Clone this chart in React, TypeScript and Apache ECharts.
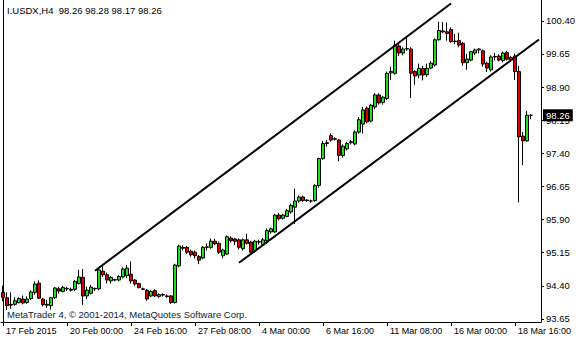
import { useEffect, useRef } from "react";
import * as echarts from "echarts";

// OHLC per H4 bar (bar 0 = 17 Feb 2015 08:00)
const OPEN = [
  94.25, 94.13, 93.96, 93.98, 94.02, 94.10, 94.02, 94.11, 94.25, 94.46,
  94.10, 93.96, 93.95, 94.13, 94.33, 94.27, 94.33, 94.32, 94.32, 94.45,
  94.59, 94.17, 94.23, 94.33, 94.33, 94.73, 94.65, 94.51, 94.53, 94.53,
  94.60, 94.63, 94.66, 94.53, 94.45, 94.33, 94.30, 94.17, 94.29, 94.16,
  94.20, 94.17, 94.17, 94.02, 94.85, 95.27, 95.27, 95.18, 95.16, 95.06,
  95.03, 95.27, 95.27, 95.41, 95.36, 95.08, 95.12, 95.48, 95.46, 95.44,
  95.24, 95.44, 95.39, 95.20, 95.39, 95.33, 95.42, 95.62, 95.62, 96.00,
  95.93, 95.97, 96.07, 96.18, 96.32, 96.41, 96.33, 96.32, 96.33, 96.67,
  97.28, 97.62, 97.80, 97.72, 97.70, 97.35, 97.50, 97.64, 97.61, 97.88,
  98.06, 98.42, 98.13, 98.45, 98.72, 98.55, 98.64, 99.22, 99.21, 99.83,
  99.67, 99.76, 99.76, 99.25, 99.17, 99.32, 99.18, 99.33, 99.40, 99.97,
  100.15, 100.15, 100.20, 99.94, 99.95, 99.89, 99.45, 99.51, 99.67, 99.74,
  99.72, 99.44, 99.29, 99.58, 99.60, 99.50, 99.68, 99.57, 99.60, 99.25,
  97.79, 97.68, 98.26,
];
const CLOSE = [
  94.14, 93.95, 93.98, 94.06, 94.11, 94.01, 94.10, 94.26, 94.44, 94.12,
  93.97, 93.98, 94.13, 94.35, 94.28, 94.36, 94.34, 94.30, 94.50, 94.60,
  94.17, 94.30, 94.37, 94.34, 94.76, 94.65, 94.53, 94.59, 94.54, 94.61,
  94.78, 94.80, 94.51, 94.44, 94.36, 94.32, 94.10, 94.27, 94.17, 94.20,
  94.19, 94.16, 94.02, 94.87, 95.30, 95.25, 95.16, 95.10, 95.08, 94.98,
  95.27, 95.28, 95.41, 95.35, 95.16, 95.21, 95.51, 95.42, 95.41, 95.27,
  95.44, 95.36, 95.16, 95.41, 95.40, 95.44, 95.65, 95.69, 96.00, 95.92,
  96.00, 96.10, 96.22, 96.32, 96.41, 96.33, 96.34, 96.32, 96.67, 97.28,
  97.62, 97.64, 97.70, 97.73, 97.35, 97.56, 97.62, 97.66, 97.88, 98.16,
  98.38, 98.11, 98.49, 98.72, 98.54, 98.67, 99.21, 99.25, 99.85, 99.67,
  99.76, 99.77, 99.21, 99.15, 99.32, 99.17, 99.32, 99.44, 99.97, 100.18,
  100.17, 100.11, 99.93, 99.93, 99.85, 99.45, 99.53, 99.70, 99.74, 99.76,
  99.42, 99.33, 99.58, 99.59, 99.51, 99.67, 99.53, 99.52, 99.25, 97.77,
  97.68, 98.26, 98.26,
];
const LOW = [
  94.05, 93.85, 93.88, 93.95, 94.00, 93.98, 93.99, 94.08, 94.20, 94.10,
  93.93, 93.90, 93.86, 94.10, 94.22, 94.25, 94.28, 94.27, 94.28, 94.43,
  93.97, 94.10, 94.20, 94.28, 94.30, 94.60, 94.45, 94.45, 94.50, 94.50,
  94.57, 94.57, 94.45, 94.40, 94.34, 94.30, 94.06, 94.14, 94.14, 94.13,
  94.16, 94.13, 93.99, 94.00, 94.82, 95.20, 95.12, 95.06, 95.02, 94.89,
  95.00, 95.20, 95.24, 95.32, 95.12, 95.02, 95.10, 95.38, 95.32, 95.22,
  95.20, 95.33, 95.10, 95.15, 95.33, 95.30, 95.35, 95.58, 95.60, 95.88,
  95.90, 95.95, 96.03, 95.80, 96.28, 96.30, 96.30, 96.28, 96.30, 96.62,
  97.25, 97.55, 97.66, 97.69, 97.22, 97.30, 97.46, 97.60, 97.58, 97.84,
  97.85, 98.08, 98.10, 98.40, 98.50, 98.50, 98.60, 99.06, 99.18, 99.60,
  99.62, 99.72, 98.65, 98.95, 99.10, 99.05, 99.13, 99.30, 99.36, 99.95,
  100.12, 99.95, 99.90, 99.87, 99.80, 99.38, 99.29, 99.48, 99.62, 99.66,
  99.36, 99.24, 99.25, 99.50, 99.48, 99.46, 99.50, 99.48, 99.06, 96.29,
  97.13, 97.66, 98.17,
];
const HIGH = [
  94.40, 94.25, 94.25, 94.14, 94.14, 94.18, 94.16, 94.30, 94.50, 94.52,
  94.12, 94.08, 94.15, 94.37, 94.38, 94.40, 94.38, 94.36, 94.53, 94.76,
  94.78, 94.38, 94.42, 94.36, 94.80, 94.87, 94.70, 94.62, 94.56, 94.64,
  94.82, 94.87, 94.95, 94.55, 94.47, 94.36, 94.33, 94.30, 94.32, 94.23,
  94.23, 94.20, 94.19, 94.90, 95.33, 95.32, 95.30, 95.22, 95.20, 95.10,
  95.30, 95.36, 95.47, 95.46, 95.40, 95.24, 95.54, 95.52, 95.48, 95.47,
  95.47, 95.58, 95.42, 95.44, 95.44, 95.48, 95.70, 95.72, 96.03, 96.05,
  96.03, 96.14, 96.26, 96.60, 96.45, 96.44, 96.36, 96.35, 96.70, 97.30,
  97.68, 97.70, 97.85, 97.76, 97.72, 97.60, 97.66, 97.70, 97.92, 98.22,
  98.45, 98.46, 98.52, 98.76, 98.76, 98.70, 99.25, 99.36, 99.95, 99.90,
  99.80, 100.05, 99.80, 99.28, 99.43, 99.38, 99.43, 99.48, 100.00, 100.38,
  100.37, 100.36, 100.25, 100.10, 100.13, 99.92, 99.65, 99.72, 99.77, 99.78,
  99.75, 99.47, 99.62, 99.67, 99.64, 99.70, 99.72, 99.60, 99.66, 99.38,
  97.88, 98.36, 98.28,
];

const SLOTS = 135; // bar slots visible on the chart (last ones empty: chart shift)
const X_TICK_STEP = 16;
const X_TICK_LABELS = [
  "17 Feb 2015", "20 Feb 00:00", "24 Feb 16:00", "27 Feb 08:00", "4 Mar 00:00",
  "6 Mar 16:00", "11 Mar 08:00", "16 Mar 00:00", "18 Mar 16:00",
];
const Y_TICKS = [93.65, 94.4, 95.15, 95.9, 96.65, 97.4, 98.15, 98.9, 99.65, 100.4];
const Y_MIN = 93.58;
const Y_MAX = 100.87;

const UPPER_CHANNEL = [[23, 94.74], [112, 100.79]];
const LOWER_CHANNEL = [[59, 94.92], [134, 99.975]];
const LAST_PRICE = 98.26;

const TITLE = "I.USDX,H4  98.26 98.28 98.17 98.26";
const COPYRIGHT = "MetaTrader 4, \u00a9 2001-2014, MetaQuotes Software Corp.";

const FONT = "'Liberation Sans', Arial, sans-serif";

export default function App() {
  const ref = useRef<HTMLDivElement>(null);

  useEffect(() => {
    if (!ref.current) return;
    const chart = echarts.init(ref.current, null, { renderer: "svg" });
    const categories = Array.from({ length: SLOTS }, (_, i) => String(i));
    const candles = OPEN.map((o, i) => [o, CLOSE[i], LOW[i], HIGH[i]]);

    chart.setOption({
      animation: false,
      backgroundColor: "#ffffff",
      textStyle: { fontFamily: FONT },
      title: {
        text: TITLE,
        left: 7,
        top: 5,
        padding: 0,
        textStyle: { fontSize: 9.5, fontWeight: "normal", color: "#000", fontFamily: FONT },
      },
      grid: { left: 1, right: 39, top: 0, bottom: 18, containLabel: false },
      xAxis: {
        type: "category",
        data: categories,
        boundaryGap: true,
        axisLine: { show: true, lineStyle: { color: "#000", width: 1 } },
        axisTick: {
          show: true,
          alignWithLabel: true,
          length: 4,
          interval: (idx: number) => idx % X_TICK_STEP === 0,
          lineStyle: { color: "#000" },
        },
        axisLabel: {
          show: true,
          interval: (idx: number) => idx % X_TICK_STEP === 0,
          formatter: (_v: string, idx: number) => X_TICK_LABELS[idx / X_TICK_STEP] ?? "",
          align: "left",
          margin: 4,
          padding: [0, 0, 0, 3],
          color: "#000",
          fontSize: 9,
          fontFamily: FONT,
          hideOverlap: false,
        },
        splitLine: { show: false },
      },
      yAxis: {
        type: "value",
        position: "right",
        min: Y_MIN,
        max: Y_MAX,
        scale: true,
        axisLine: { show: true, lineStyle: { color: "#000", width: 1 } },
        axisTick: {
          show: true,
          length: 3,
          customValues: Y_TICKS,
          lineStyle: { color: "#000" },
        },
        axisLabel: {
          show: true,
          customValues: Y_TICKS,
          formatter: (v: number) => v.toFixed(2),
          margin: 5,
          color: "#000",
          fontSize: 9.5,
          fontFamily: FONT,
        },
        splitLine: { show: false },
      },
      graphic: [
        {
          type: "line",
          shape: { x1: 3.5, y1: 0, x2: 3.5, y2: 322 },
          style: { stroke: "#000", lineWidth: 1 },
          silent: true,
        },
        {
          type: "text",
          left: 7,
          top: 309,
          style: { text: COPYRIGHT, fill: "#0c1c3c", fontSize: 9.5, fontFamily: FONT },
          silent: true,
        },
      ],
      series: [
        {
          type: "candlestick",
          data: candles,
          barWidth: 3,
          clip: false,
          itemStyle: {
            color: "#22dd22",
            color0: "#dd0000",
            borderColor: "#000",
            borderColor0: "#000",
            borderWidth: 1,
          },
          markLine: {
            silent: true,
            symbol: "none",
            animation: false,
            z: 10,
            lineStyle: { color: "#000", width: 2, type: "solid" },
            label: { show: false },
            data: [
              [{ coord: UPPER_CHANNEL[0] }, { coord: UPPER_CHANNEL[1] }],
              [{ coord: LOWER_CHANNEL[0] }, { coord: LOWER_CHANNEL[1] }],
              {
                yAxis: LAST_PRICE,
                lineStyle: { color: "rgba(0,0,0,0)", width: 0 },
                label: {
                  show: true,
                  position: "end",
                  distance: 2,
                  formatter: () => LAST_PRICE.toFixed(2),
                  color: "#fff",
                  backgroundColor: "#000",
                  padding: [1, 3, 1, 3],
                  fontSize: 9.5,
                  fontFamily: FONT,
                },
              },
            ],
          },
        },
      ],
    });

    return () => chart.dispose();
  }, []);

  return (
    <div
      ref={ref}
      style={{ position: "fixed", left: 0, top: 0, width: 580, height: 340 }}
    />
  );
}
